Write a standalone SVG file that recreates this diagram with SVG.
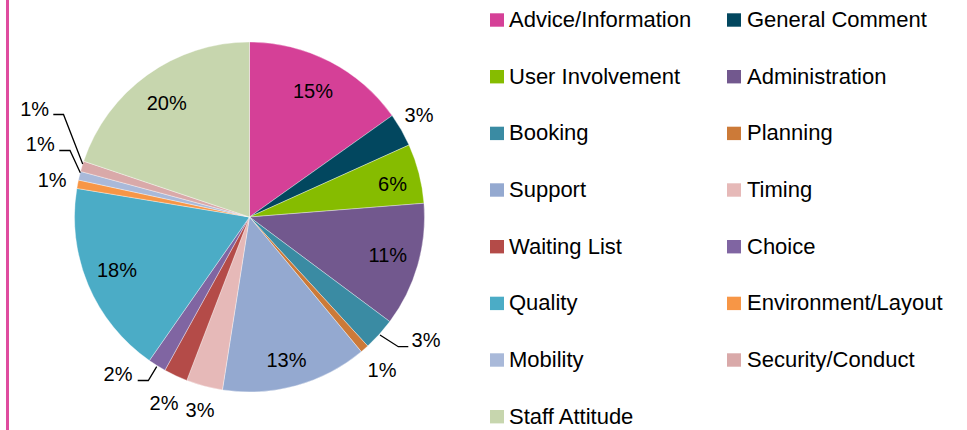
<svg xmlns="http://www.w3.org/2000/svg" width="967" height="430" viewBox="0 0 967 430">
<style>
.s{stroke:#ffffff;stroke-width:0.6;stroke-opacity:0.6}
.lbl{font-family:"Liberation Sans",Arial,sans-serif;font-size:20px;fill:#000;text-anchor:middle}
.leg{font-family:"Liberation Sans",Arial,sans-serif;font-size:22px;fill:#000}
.ld{fill:none;stroke:#000;stroke-width:1.3}
</style>
<rect x="0" y="0" width="967" height="430" fill="#ffffff"/>
<rect id="side-bar" x="6" y="0" width="3" height="430" fill="#DF4C9F"/>
<g id="pie">
<path id="slice-advice" class="s" fill="#D54097" d="M249.5 217 L249.5 42 A175 175 0 0 1 392.14 115.62 Z"/>
<path id="slice-general" class="s" fill="#02475F" d="M249.5 217 L392.14 115.62 A175 175 0 0 1 409.0 144.99 Z"/>
<path id="slice-user" class="s" fill="#86BC00" d="M249.5 217 L409.0 144.99 A175 175 0 0 1 423.96 203.27 Z"/>
<path id="slice-admin" class="s" fill="#72588E" d="M249.5 217 L423.96 203.27 A175 175 0 0 1 389.80 321.59 Z"/>
<path id="slice-booking" class="s" fill="#3A8BA3" d="M249.5 217 L389.80 321.59 A175 175 0 0 1 367.73 346.02 Z"/>
<path id="slice-planning" class="s" fill="#CC7A38" d="M249.5 217 L367.73 346.02 A175 175 0 0 1 361.28 351.65 Z"/>
<path id="slice-support" class="s" fill="#94A9D0" d="M249.5 217 L361.28 351.65 A175 175 0 0 1 222.43 389.89 Z"/>
<path id="slice-timing" class="s" fill="#E6B9B8" d="M249.5 217 L222.43 389.89 A175 175 0 0 1 186.79 380.38 Z"/>
<path id="slice-waiting" class="s" fill="#B44B48" d="M249.5 217 L186.79 380.38 A175 175 0 0 1 164.93 370.21 Z"/>
<path id="slice-choice" class="s" fill="#8065A2" d="M249.5 217 L164.93 370.21 A175 175 0 0 1 149.37 360.53 Z"/>
<path id="slice-quality" class="s" fill="#4BACC6" d="M249.5 217 L149.37 360.53 A175 175 0 0 1 76.85 188.42 Z"/>
<path id="slice-environment" class="s" fill="#F79646" d="M249.5 217 L76.85 188.42 A175 175 0 0 1 78.45 180.02 Z"/>
<path id="slice-mobility" class="s" fill="#A9B9D9" d="M249.5 217 L78.45 180.02 A175 175 0 0 1 80.54 171.41 Z"/>
<path id="slice-security" class="s" fill="#D9A9A9" d="M249.5 217 L80.54 171.41 A175 175 0 0 1 83.64 161.18 Z"/>
<path id="slice-staff" class="s" fill="#C7D6AE" d="M249.5 217 L83.64 161.18 A175 175 0 0 1 249.5 42 Z"/>
</g>
<g id="connectors">
<polyline class="ld" points="53.3,114.5 63.5,114.5 82.7,164"/>
<polyline class="ld" points="59.3,150.5 70,150.5 80.3,172.7"/>
<polyline class="ld" points="380,335 398.3,346.7 408.3,346.7"/>
<polyline class="ld" points="137.7,380.5 148.3,380.5 156.7,366.7"/>
</g>
<g id="data-labels">
<text class="lbl" x="313" y="98">15%</text>
<text class="lbl" x="419" y="121.7">3%</text>
<text class="lbl" x="392.5" y="190.7">6%</text>
<text class="lbl" x="387.8" y="262.3">11%</text>
<text class="lbl" x="426" y="346.7">3%</text>
<text class="lbl" x="382" y="376.5">1%</text>
<text class="lbl" x="286.5" y="366.7">13%</text>
<text class="lbl" x="200" y="416.5">3%</text>
<text class="lbl" x="164" y="410">2%</text>
<text class="lbl" x="118" y="380.7">2%</text>
<text class="lbl" x="117" y="276.7">18%</text>
<text class="lbl" x="166.7" y="110">20%</text>
<text class="lbl" x="34.7" y="116">1%</text>
<text class="lbl" x="40.3" y="150.7">1%</text>
<text class="lbl" x="52.2" y="186.7">1%</text>
</g>
<g id="legend">
<g id="leg-advice"><rect x="490" y="13.3" width="14" height="13.4" fill="#D54097"/><text class="leg" x="509" y="27">Advice/Information</text></g>
<g id="leg-general"><rect x="727" y="13.3" width="14" height="13.4" fill="#02475F"/><text class="leg" x="747" y="27">General Comment</text></g>
<g id="leg-user"><rect x="490" y="70" width="14" height="13.4" fill="#86BC00"/><text class="leg" x="509" y="83.6">User Involvement</text></g>
<g id="leg-admin"><rect x="727" y="70" width="14" height="13.4" fill="#72588E"/><text class="leg" x="747" y="83.6">Administration</text></g>
<g id="leg-booking"><rect x="490" y="126.7" width="14" height="13.4" fill="#3A8BA3"/><text class="leg" x="509" y="140.3">Booking</text></g>
<g id="leg-planning"><rect x="727" y="126.7" width="14" height="13.4" fill="#CC7A38"/><text class="leg" x="747" y="140.3">Planning</text></g>
<g id="leg-support"><rect x="490" y="183.3" width="14" height="13.4" fill="#94A9D0"/><text class="leg" x="509" y="197">Support</text></g>
<g id="leg-timing"><rect x="727" y="183.3" width="14" height="13.4" fill="#E6B9B8"/><text class="leg" x="747" y="197">Timing</text></g>
<g id="leg-waiting"><rect x="490" y="240" width="14" height="13.4" fill="#B44B48"/><text class="leg" x="509" y="253.6">Waiting List</text></g>
<g id="leg-choice"><rect x="727" y="240" width="14" height="13.4" fill="#8065A2"/><text class="leg" x="747" y="253.6">Choice</text></g>
<g id="leg-quality"><rect x="490" y="296.7" width="14" height="13.4" fill="#4BACC6"/><text class="leg" x="509" y="310.3">Quality</text></g>
<g id="leg-environment"><rect x="727" y="296.7" width="14" height="13.4" fill="#F79646"/><text class="leg" x="747" y="310.3">Environment/Layout</text></g>
<g id="leg-mobility"><rect x="490" y="353.3" width="14" height="13.4" fill="#A9B9D9"/><text class="leg" x="509" y="367">Mobility</text></g>
<g id="leg-security"><rect x="727" y="353.3" width="14" height="13.4" fill="#D9A9A9"/><text class="leg" x="747" y="367">Security/Conduct</text></g>
<g id="leg-staff"><rect x="490" y="410" width="14" height="13.4" fill="#C7D6AE"/><text class="leg" x="509" y="423.6">Staff Attitude</text></g>
</g>
</svg>
